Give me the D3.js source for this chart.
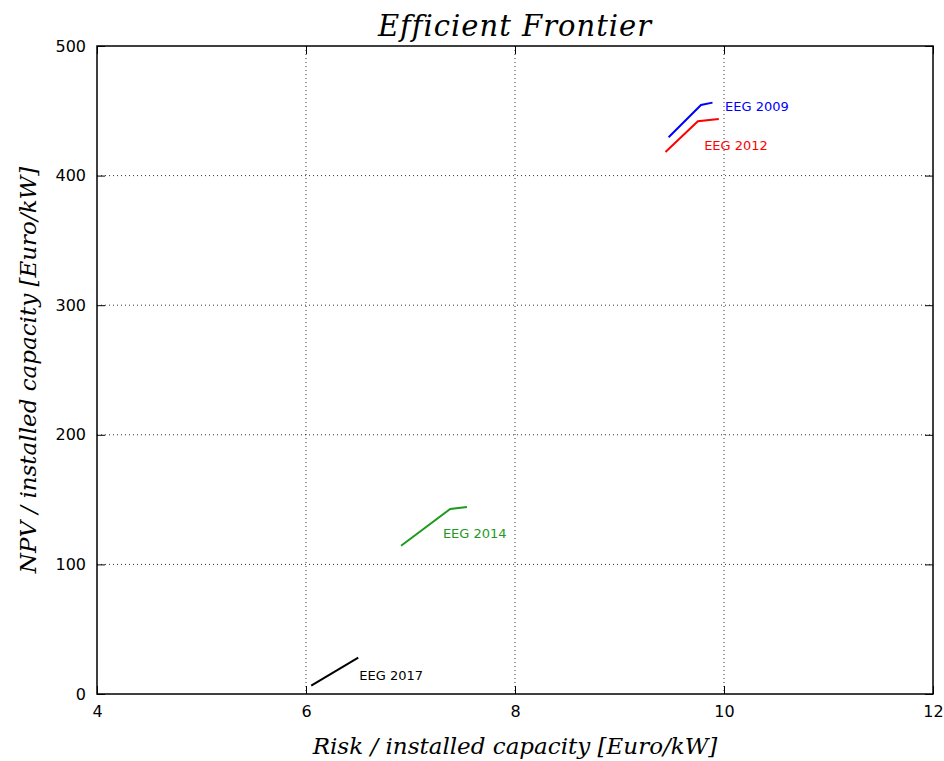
<!DOCTYPE html>
<html>
<head>
<meta charset="utf-8">
<script src="https://cdn.jsdelivr.net/npm/d3@7"></script>
<style>
  body { margin: 0; background: #fff; }
  svg { display: block; }
  .tick text { font-family: "DejaVu Sans", sans-serif; font-size: 16px; fill: #000; }
  .math { font-family: "DejaVu Serif", "Liberation Serif", serif; font-style: italic; fill: #000; }
</style>
</head>
<body>
<div id="chart"></div>
<script>
// frontier curves: [risk, npv]
const eeg2009 = [[9.47, 429.6], [9.78, 454.5], [9.89, 456.3]];
const eeg2012 = [[9.44, 418.2], [9.75, 441.9], [9.95, 443.7]];
const eeg2014 = [[6.91, 114.4], [7.38, 142.7], [7.54, 144.3]];
const eeg2017 = [[6.05, 6.4], [6.50, 28]];

const seriesNames = ["EEG 2009", "EEG 2012", "EEG 2014", "EEG 2017"];
const seriesColors = ["#0000ff", "#ff0000", "#1e9a1e", "#000000"];
const labelPos = [[10.01, 450], [9.81, 420], [7.31, 120.4], [6.51, 10.8]];

const xTicks = [4, 6, 8, 10, 12];
const yTicks = [0, 100, 200, 300, 400, 500];

const width = 944, height = 761;
const margin = { top: 46, right: 11, bottom: 67, left: 97 };
const innerW = width - margin.left - margin.right;
const innerH = height - margin.top - margin.bottom;

const svg = d3.select("#chart").append("svg")
  .attr("width", width)
  .attr("height", height);

const g = svg.append("g").attr("transform", `translate(${margin.left},${margin.top})`);

const x = d3.scaleLinear().domain([4, 12]).range([0, innerW]);
const y = d3.scaleLinear().domain([0, 500]).range([innerH, 0]);

// grid
g.append("g").selectAll("line")
  .data(xTicks.slice(1, -1))
  .enter().append("line")
  .attr("x1", d => x(d)).attr("x2", d => x(d))
  .attr("y1", 0).attr("y2", innerH)
  .attr("stroke", "#000").attr("stroke-width", 0.8)
  .attr("stroke-dasharray", "1,3");

g.append("g").selectAll("line")
  .data(yTicks.slice(1, -1))
  .enter().append("line")
  .attr("x1", 0).attr("x2", innerW)
  .attr("y1", d => y(d)).attr("y2", d => y(d))
  .attr("stroke", "#000").attr("stroke-width", 0.8)
  .attr("stroke-dasharray", "1,3");

// axes, ticks pointing inward like matplotlib classic
const xAxis = g.append("g")
  .attr("transform", `translate(0,${innerH})`)
  .call(d3.axisBottom(x).tickValues(xTicks).tickSize(-8).tickPadding(12).tickFormat(d3.format("d")));
const xTop = g.append("g")
  .call(d3.axisTop(x).tickValues(xTicks).tickSize(-8).tickFormat(""));
const yAxis = g.append("g")
  .call(d3.axisLeft(y).tickValues(yTicks).tickSize(-8).tickPadding(11).tickFormat(d3.format("d")));
const yRight = g.append("g")
  .attr("transform", `translate(${innerW},0)`)
  .call(d3.axisRight(y).tickValues(yTicks).tickSize(-8).tickFormat(""));

[xAxis, xTop, yAxis, yRight].forEach(a => {
  a.select(".domain").remove();
  a.selectAll(".tick line").attr("stroke", "#000").attr("stroke-width", 1);
});

g.append("rect")
  .attr("width", innerW).attr("height", innerH)
  .attr("fill", "none").attr("stroke", "#000").attr("stroke-width", 1.5);

// curves
const line = d3.line().x(d => x(d[0])).y(d => y(d[1]));
const allSeries = [eeg2009, eeg2012, eeg2014, eeg2017];

g.selectAll(".frontier")
  .data(allSeries)
  .enter().append("path")
  .attr("class", "frontier")
  .attr("d", line)
  .attr("fill", "none")
  .attr("stroke", (d, i) => seriesColors[i])
  .attr("stroke-width", 2);

g.selectAll(".series-label")
  .data(seriesNames)
  .enter().append("text")
  .attr("class", "series-label")
  .attr("x", (d, i) => x(labelPos[i][0]))
  .attr("y", (d, i) => y(labelPos[i][1]))
  .attr("fill", (d, i) => seriesColors[i])
  .style("font-family", "DejaVu Sans, sans-serif")
  .style("font-size", "13px")
  .text(d => d);

// titles
svg.append("text")
  .attr("class", "math")
  .attr("x", margin.left + innerW / 2)
  .attr("y", 36)
  .attr("text-anchor", "middle")
  .style("font-size", "29px")
  .style("letter-spacing", "1px")
  .text("Efficient Frontier");

svg.append("text")
  .attr("class", "math")
  .attr("x", margin.left + innerW / 2)
  .attr("y", 754)
  .attr("text-anchor", "middle")
  .style("font-size", "23px")
  .text("Risk / installed capacity [Euro/kW]");

svg.append("text")
  .attr("class", "math")
  .attr("transform", `translate(36,${margin.top + innerH / 2}) rotate(-90)`)
  .attr("text-anchor", "middle")
  .style("font-size", "23px")
  .text("NPV / installed capacity [Euro/kW]");
</script>
</body>
</html>
